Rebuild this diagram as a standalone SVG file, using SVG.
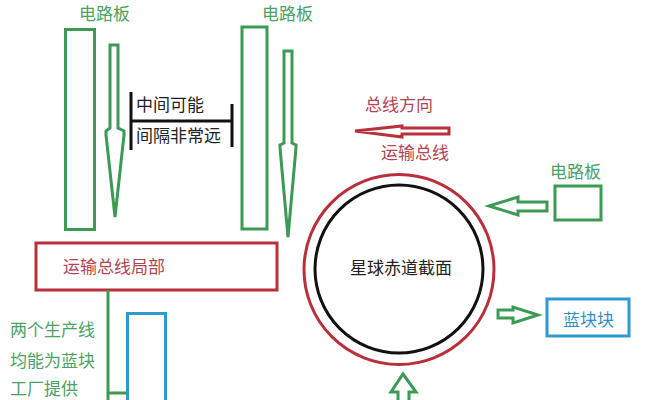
<svg xmlns="http://www.w3.org/2000/svg" width="662" height="400" viewBox="0 0 662 400">
<style>
text{font-family:"Noto Sans CJK SC","Noto Sans",sans-serif;font-size:17px}
.g{fill:none;stroke:#3c9a55;stroke-width:3}
.gt{fill:#4aa264}
.r{fill:none;stroke:#b9303b;stroke-width:3}
.rt{fill:#b34452}
.b{fill:none;stroke:#2e9ad0;stroke-width:3}
.bt{fill:#3590be}
.k{fill:none;stroke:#111;stroke-width:3}
.kt{fill:#222}
</style>
<rect width="662" height="400" fill="#fff"/>
<g id="board-left">
<rect class="g" x="65.5" y="29.5" width="29" height="200"/>
<text class="gt" x="79" y="20">电路板</text>
</g>
<g id="board-right">
<rect class="g" x="242" y="27" width="25" height="202"/>
<text class="gt" x="262" y="20">电路板</text>
</g>
<g id="gap-label">
<path class="k" d="M131 92V150M232 104V147M131 121H232" stroke-width="2.5"/>
<text class="kt" x="136" y="111">中间可能</text>
<text class="kt" x="136" y="142">间隔非常远</text>
</g>
<g id="bus-direction">
<text class="rt" x="365" y="111">总线方向</text>
<text class="rt" x="381" y="159">运输总线</text>
</g>
<g id="board-small">
<text class="gt" x="550" y="178">电路板</text>
<rect class="g" x="555" y="186" width="46" height="34"/>
</g>
<g id="planet">
<circle class="r" cx="399" cy="269.5" r="95"/>
<circle class="k" cx="399" cy="269" r="84" stroke-width="2.5"/>
<text class="kt" x="350" y="274">星球赤道截面</text>
</g>
<g id="bus-local">
<rect class="r" x="36" y="243" width="241" height="47"/>
<text class="rt" x="63" y="273">运输总线局部</text>
</g>
<g id="blue-block">
<rect class="b" x="547" y="299" width="82" height="37"/>
<text class="bt" x="563" y="326">蓝块块</text>
</g>
<g id="factory">
<rect class="b" x="127.5" y="313.5" width="38" height="100"/>
<text class="gt" x="10" y="336">两个生产线</text>
<text class="gt" x="10" y="367">均能为蓝块</text>
<text class="gt" x="10" y="395">工厂提供</text>
</g>
<g id="connectors">
<polygon class="g" stroke-width="2.5" points="110,45 118,45 118,128 124,131 124,135 115,217 106,135 106,131 110,128"/>
<polygon class="g" stroke-width="2.5" points="284,51 292,51 292,143 296,145 296,148 288,237 280,148 280,145 284,143"/>
<polygon class="r" stroke-width="2.5" points="355,131 402,126 402,128 449,128 449,134 402,134 402,137"/>
<polygon class="g" points="489,206 518,197 518,202 547,202 547,211 518,211 518,215"/>
<polygon class="g" points="498,310 513,310 513,307 538,315 513,323 513,318 498,318"/>
<polygon class="g" points="403,374 416,392 409,392 409,402 398,402 398,392 391,392"/>
<path class="g" d="M108 290V400M108 393H127"/>
</g>
</svg>
